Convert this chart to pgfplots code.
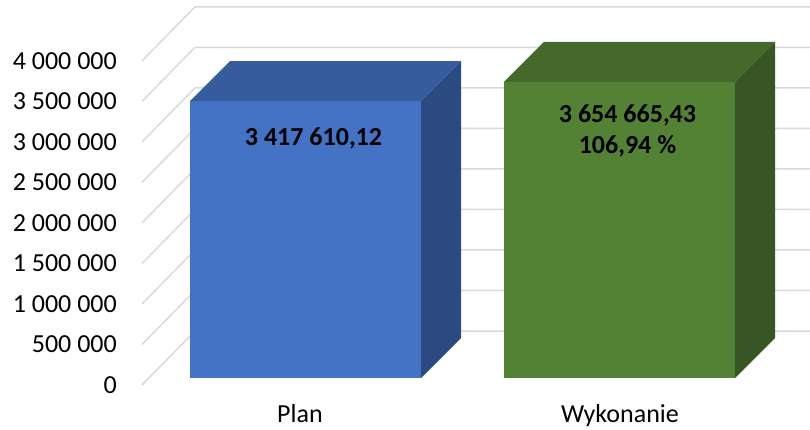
\documentclass[border=0pt]{standalone}
\usepackage{fontspec}
\setmainfont{Carlito}
\usepackage{pgfplots}
\pgfplotsset{compat=1.18}
\definecolor{planF}{HTML}{4472C4}
\definecolor{planT}{HTML}{365C9E}
\definecolor{planS}{HTML}{2C4A82}
\definecolor{wykF}{HTML}{548235}
\definecolor{wykT}{HTML}{44692B}
\definecolor{wykS}{HTML}{375623}
\definecolor{gridc}{HTML}{D9D9D9}
% values in thousands
\def\vPlan{3417.61012}
\def\vWyk{3654.66543}
% depth offset of bars: 40 px, 1 px = 12.34 (thousands)
\pgfmathsetmacro\vPlanT{\vPlan+493.6}
\pgfmathsetmacro\vWykT{\vWyk+493.6}
\begin{document}
\begin{tikzpicture}
\begin{axis}[
  scale only axis, width=810pt, height=429pt,
  xmin=0, xmax=810, ymin=-629.3, ymax=4664.5,
  axis line style={draw=none},
  major tick length=0pt,
  tick style={draw=none},
  clip=false,
  ytick={0,500,...,4000},
  yticklabels={0,500 000,1 000 000,1 500 000,2 000 000,2 500 000,3 000 000,3 500 000,4 000 000},
  yticklabel style={anchor=east, inner sep=0pt, xshift=117pt, yshift=-7pt},
  xtick={300,620}, xticklabels={Plan,Wykonanie},
  xticklabel style={anchor=base, inner sep=0pt, yshift=7pt},
  tick label style={font=\fontsize{26}{31}\selectfont, text=black},
]
\pgfplotsinvokeforeach{0,500,...,4000}{
  \draw[gridc, line width=1.5pt] (axis cs:142,{#1-86.38}) -- (axis cs:195,{#1+579.98}) -- (axis cs:810,{#1+579.98});
}
% Plan bar
\addplot[ybar, bar width=231, fill=planF, draw=none] coordinates {(305.5,\vPlan)};
\addplot[fill=planT, draw=none] coordinates {(190,\vPlan) (421,\vPlan) (461,\vPlanT) (230,\vPlanT)} -- cycle;
\addplot[fill=planS, draw=none] coordinates {(421,0) (461,493.6) (461,\vPlanT) (421,\vPlan)} -- cycle;
% Wykonanie bar
\addplot[ybar, bar width=231, fill=wykF, draw=none] coordinates {(619.5,\vWyk)};
\addplot[fill=wykT, draw=none] coordinates {(504,\vWyk) (735,\vWyk) (775,\vWykT) (544,\vWykT)} -- cycle;
\addplot[fill=wykS, draw=none] coordinates {(735,0) (775,493.6) (775,\vWykT) (735,\vWyk)} -- cycle;
% labels
\node[anchor=base, inner sep=0pt, font=\fontsize{26}{31}\selectfont\bfseries] at (axis cs:313.5,2863) {3 417 610,12};
\node[anchor=base, inner sep=0pt, font=\fontsize{26}{31}\selectfont\bfseries] at (axis cs:627.5,3159) {3 654 665,43};
\node[anchor=base, inner sep=0pt, font=\fontsize{26}{31}\selectfont\bfseries] at (axis cs:627.5,2776) {106,94 \%};
\end{axis}
\pgfresetboundingbox
\path (current axis.south west) rectangle (current axis.north east);
\end{tikzpicture}
\end{document}
